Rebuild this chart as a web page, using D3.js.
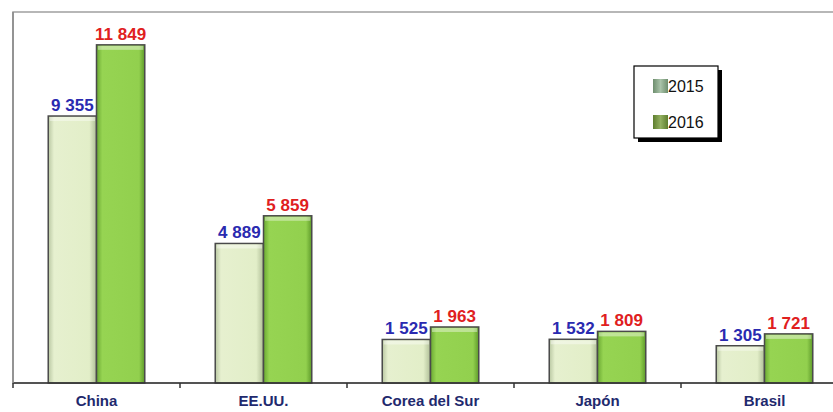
<!DOCTYPE html>
<html><head><meta charset="utf-8">
<script src="https://cdn.jsdelivr.net/npm/d3@7"></script>
<style>body{margin:0;background:#fff}svg{display:block}</style>
</head><body>
<script>
const categories = ["China", "EE.UU.", "Corea del Sur", "Japón", "Brasil"];
const seriesNames = ["2015", "2016"];
const values2015 = [9355, 4889, 1525, 1532, 1305];
const values2016 = [11849, 5859, 1963, 1809, 1721];
const labels2015 = ["9 355", "4 889", "1 525", "1 532", "1 305"];
const labels2016 = ["11 849", "5 859", "1 963", "1 809", "1 721"];

const W = 833, H = 412;
const svg = d3.select("body").append("svg").attr("width", W).attr("height", H);
const defs = svg.append("defs");
function grad(id, stops, vertical) {
  const g = defs.append("linearGradient").attr("id", id).attr("x1", 0).attr("x2", vertical ? 0 : 1).attr("y1", 0).attr("y2", vertical ? 1 : 0);
  stops.forEach(s => g.append("stop").attr("offset", s[0]).attr("stop-color", s[1]));
}
grad("g15", [[0, "#b9c7a2"], [0.12, "#e6f0cf"], [0.85, "#e2eec8"], [1, "#aebd96"]]);
grad("g16", [[0, "#6aa832"], [0.12, "#96d452"], [0.88, "#92d04e"], [1, "#5e9a2a"]]);
grad("lg15", [[0, "#6e8e6e"], [0.5, "#a9c3a9"], [1, "#6e8e6e"]]);
grad("lg16", [[0, "#5e7e2e"], [0.5, "#93b060"], [1, "#5e7e2e"]]);

const pLeft = 13, pRight = 848, pTop = 12, pBottom = 383;
const x = d3.scaleBand().domain(categories).range([pLeft, pRight]).paddingInner(0).paddingOuter(0);
const x1 = d3.scaleBand().domain(seriesNames).range([0, x.bandwidth()]).paddingInner(0).paddingOuter(0.73);
const y = d3.scaleLinear().domain([0, 13000]).range([pBottom, pTop]);

// frame
svg.append("rect").attr("x", pLeft).attr("y", pTop).attr("width", pRight - pLeft + 20).attr("height", pBottom - pTop)
  .attr("fill", "none").attr("stroke", "#a0a0a0").attr("stroke-width", 1.5);

const series = [
  {name: "2015", vals: values2015, labs: labels2015, fill: "url(#g15)", color: "#2a2ab0"},
  {name: "2016", vals: values2016, labs: labels2016, fill: "url(#g16)", color: "#e0201e"}
];

series.forEach(s => {
  const g = svg.append("g");
  categories.forEach((c, i) => {
    const bx = x(c) + x1(s.name), bw = x1.bandwidth(), by = y(s.vals[i]), bh = pBottom - by;
    g.append("rect").attr("x", bx).attr("y", by).attr("width", bw).attr("height", bh)
      .attr("fill", s.fill).attr("stroke", "#4a4a4a").attr("stroke-width", 1.5);
    g.append("rect").attr("x", bx + 1.5).attr("y", by + 1).attr("width", bw - 3).attr("height", 4)
      .attr("fill", "#ffffff").attr("opacity", 0.4);
  });
});
series.forEach(s => {
  categories.forEach((c, i) => {
    const bx = x(c) + x1(s.name), bw = x1.bandwidth(), by = y(s.vals[i]);
    svg.append("text").attr("x", bx + bw / 2).attr("y", by - 5)
      .attr("text-anchor", "middle").attr("font-family", "Liberation Sans, Arial, sans-serif")
      .attr("font-weight", "bold").attr("font-size", 17).attr("fill", s.color).text(s.labs[i]);
  });
});

// x axis
svg.append("line").attr("x1", pLeft).attr("x2", W).attr("y1", pBottom).attr("y2", pBottom)
  .attr("stroke", "#333").attr("stroke-width", 1.5);
const ax = d3.axisBottom(x).tickSize(0).tickPadding(0);
const axg = svg.append("g").attr("transform", `translate(0,${pBottom})`).call(ax);
axg.select(".domain").remove();
axg.selectAll("text").attr("y", 23).attr("dy", 0).attr("font-family", "Liberation Sans, Arial, sans-serif")
  .attr("font-weight", "bold").attr("font-size", 15).attr("fill", "#1f2a6e");
svg.append("g").selectAll("line").data(categories).join("line")
  .attr("x1", d => x(d)).attr("x2", d => x(d)).attr("y1", pBottom).attr("y2", pBottom + 5)
  .attr("stroke", "#333").attr("stroke-width", 1.5);
svg.append("line").attr("x1", pLeft).attr("x2", pLeft).attr("y1", pTop).attr("y2", pBottom)
  .attr("stroke", "#888").attr("stroke-width", 1.5);

// legend
const lg = svg.append("g").attr("transform", "translate(634,66)");
lg.append("rect").attr("x", 4).attr("y", 4).attr("width", 84).attr("height", 72).attr("fill", "#000");
lg.append("rect").attr("x", 0).attr("y", 0).attr("width", 84).attr("height", 72).attr("fill", "#fff").attr("stroke", "#000").attr("stroke-width", 1.2);
const swFill = ["url(#lg15)", "url(#lg16)"];
seriesNames.forEach((n, i) => {
  const yy = 13 + i * 36;
  lg.append("rect").attr("x", 19).attr("y", yy).attr("width", 15).attr("height", 14).attr("fill", swFill[i]);
  lg.append("text").attr("x", 34).attr("y", yy + 13).attr("font-family", "Liberation Sans, Arial, sans-serif")
    .attr("font-size", 16).attr("fill", "#111").text(n);
});
</script>
</body></html>
